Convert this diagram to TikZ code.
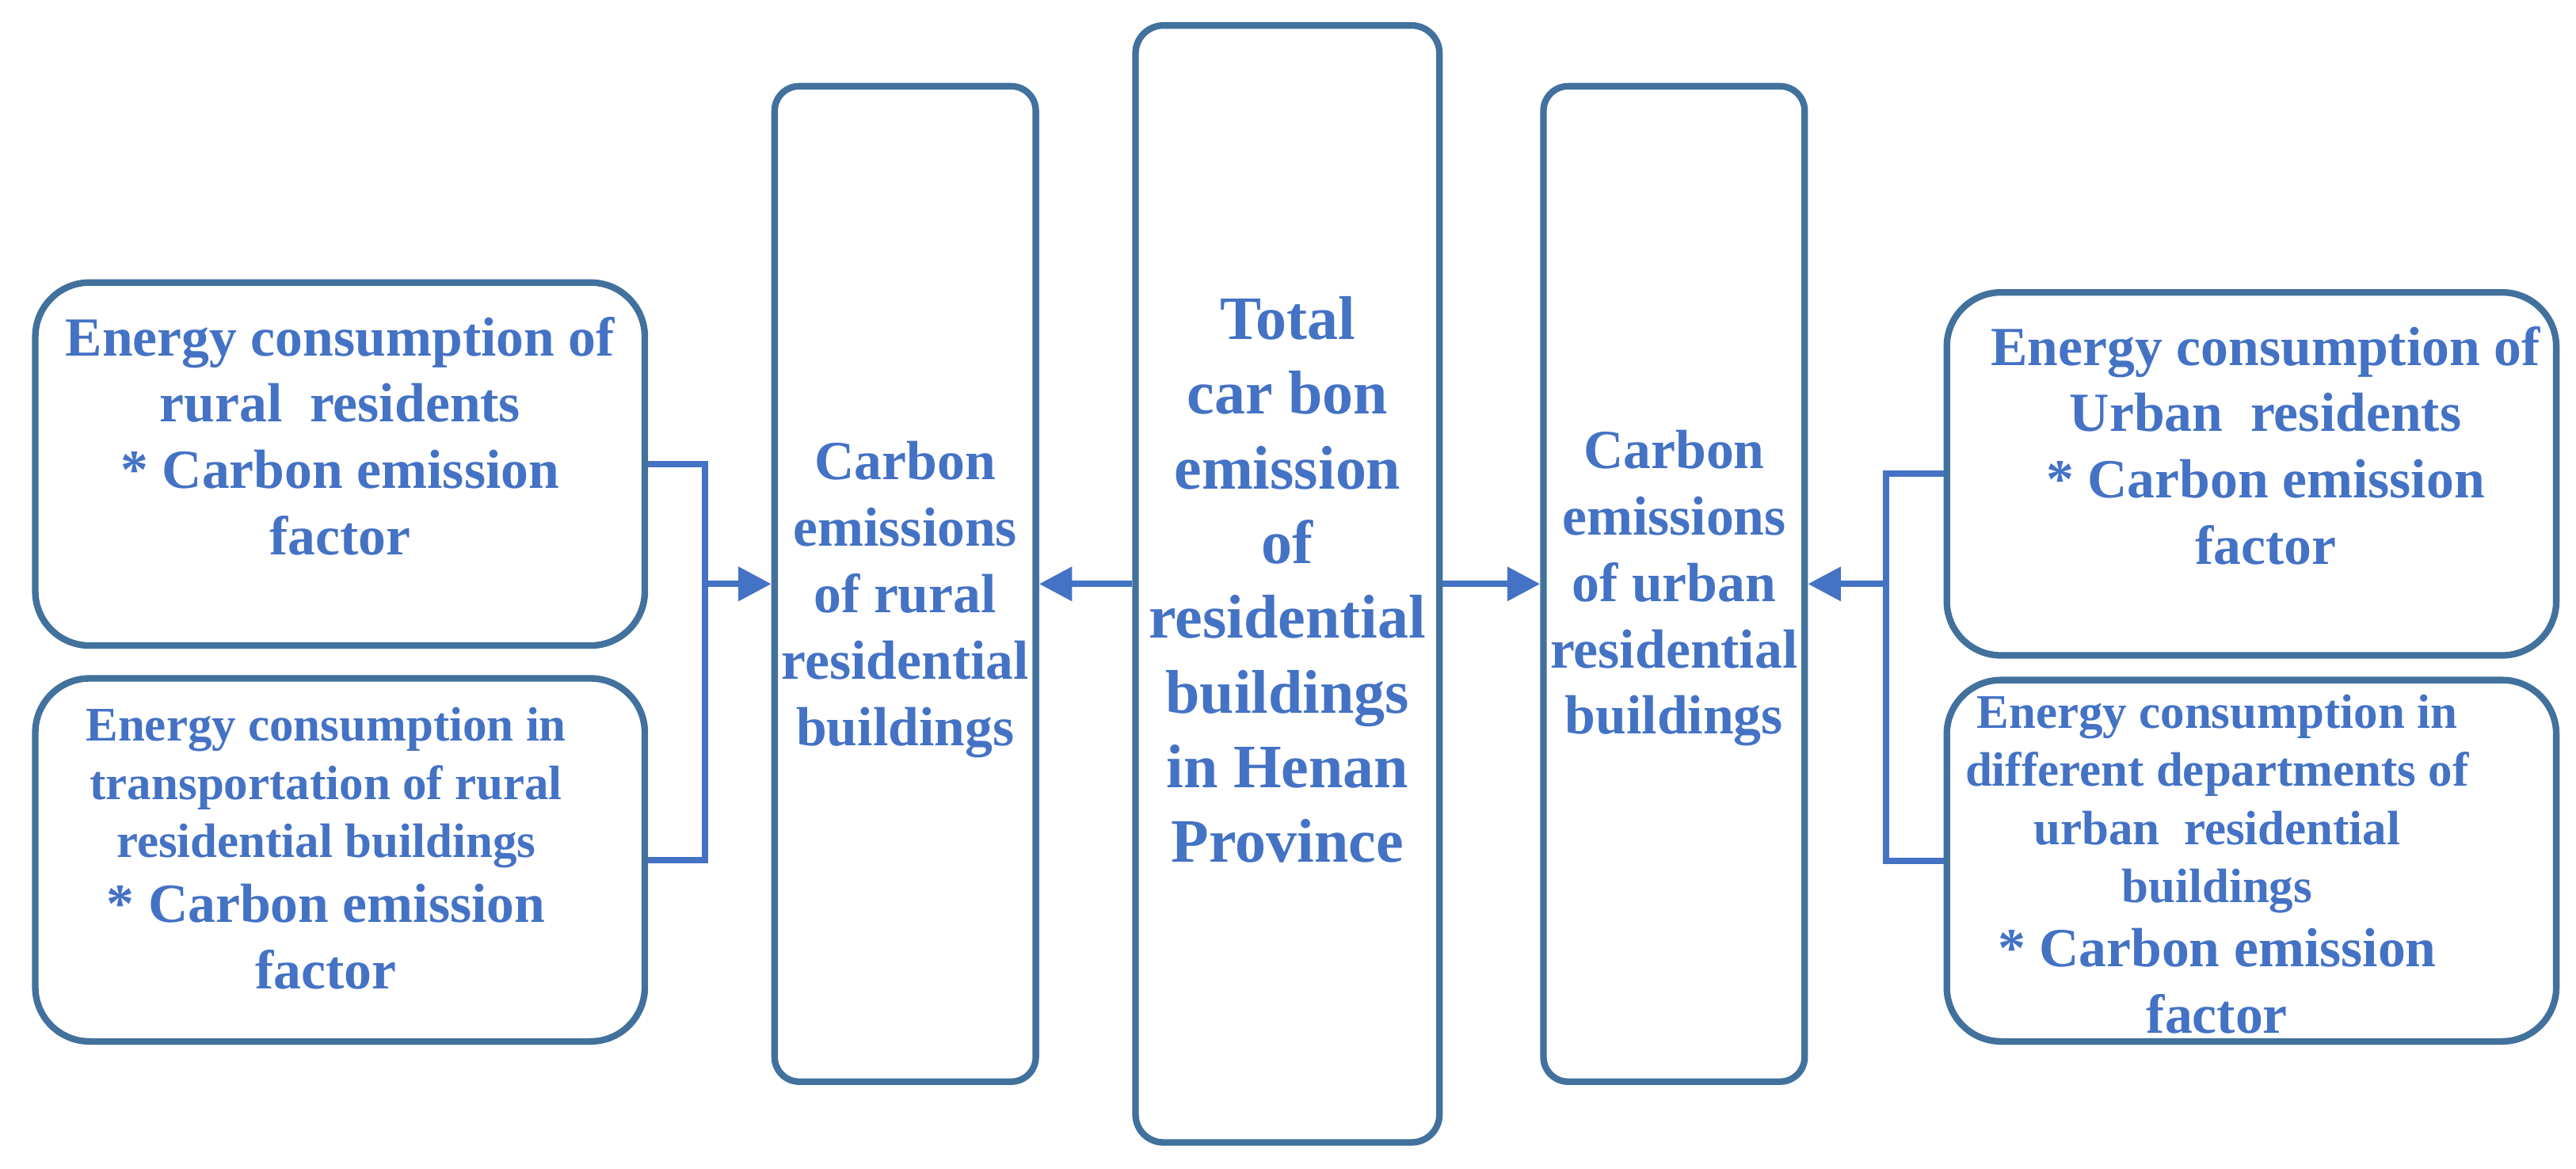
\documentclass[tikz,border=0pt]{standalone}
\usepackage{fontspec}
\setmainfont{Liberation Serif}
\usetikzlibrary{arrows.meta}
\definecolor{boxline}{HTML}{41719C}
\definecolor{txtblue}{HTML}{4472C4}
\newcommand{\bigfs}{\fontsize{16.8}{20.2}\selectfont}
\newcommand{\subfs}{\fontsize{14.7}{17.7}\selectfont}
\newcommand{\mainfs}{\fontsize{18.8}{22.75}\selectfont}

\begin{document}
\begin{tikzpicture}[auto, node distance=2cm, >={Triangle[length=10pt,width=10pt]}, line width=2pt]
        % Stili
        \tikzstyle{tall} = [draw=boxline, fill=white, rectangle, rounded corners=7.5pt, minimum width=79.5pt, minimum height=303pt]
        \tikzstyle{mainbox} = [tall, rounded corners=8.5pt, minimum width=92.5pt, minimum height=340pt]
        \tikzstyle{inbox} = [draw=boxline, fill=white, rectangle, rounded corners=16.5pt, minimum width=185.5pt, minimum height=110.5pt]
        \tikzstyle{txt} = [text=txtblue, font=\bfseries\bigfs, align=center, inner sep=0pt]
        \tikzstyle{coord} = [coordinate]
        \tikzstyle{conn} = [draw=txtblue, line width=2pt]

        \useasboundingbox (-391.85pt,-178.08pt) rectangle (392.15pt,177.75pt);

        % --- Colonne centrali ---
        \node [mainbox] (total) {};
        \node [tall, left of=total, node distance=116.35pt] (rural) {};
        \node [tall, right of=total, node distance=117.65pt] (urban) {};

        % --- Consumi rurali ---
        \node [inbox, left of=rural, node distance=172pt, yshift=36.5pt] (ruralres) {};
        \node [inbox, below of=ruralres, node distance=120.5pt] (ruraltrans) {};

        % --- Consumi urbani ---
        \node [inbox, right of=urban, node distance=175.75pt, yshift=33.5pt] (urbanres) {};
        \node [inbox, below of=urbanres, node distance=117.75pt, minimum height=110pt] (urbandept) {};

        % --- Testi ---
        \node [txt, font=\bfseries\mainfs, yshift=1.3pt] (total-txt) at (total)
            {Total\\ car bon\\ emission\\ of\\ residential\\ buildings\\ in Henan\\ Province};
        \node [txt, yshift=-4.75pt] (rural-txt) at (rural)
            {Carbon\\ emissions\\ of rural\\ residential\\ buildings};
        \node [txt, yshift=-1.35pt] (urban-txt) at (urban)
            {Carbon\\ emissions\\ of urban\\ residential\\ buildings};
        \node [txt, yshift=8.5pt] (ruralres-txt) at (ruralres)
            {Energy consumption of\\ rural\ \ residents\\ * Carbon emission\\ factor};
        \node [txt, font=\bfseries\subfs, xshift=-4.25pt, yshift=3.5pt] (ruraltrans-txt) at (ruraltrans)
            {Energy consumption in\\ transportation of rural\\ residential buildings\\[2.05pt] {\bigfs * Carbon emission}\\[2.55pt] {\bigfs factor}};
        \node [txt, xshift=4.25pt, yshift=8.6pt] (urbanres-txt) at (urbanres)
            {Energy consumption of\\ Urban\ \ residents\\ * Carbon emission\\ factor};
        \node [txt, font=\bfseries\subfs, xshift=-10.5pt, yshift=-1pt] (urbandept-txt) at (urbandept)
            {Energy consumption in\\ different departments of\\ urban\ \ residential\\ buildings\\[1.9pt] {\bigfs * Carbon emission}\\[2.4pt] {\bigfs factor}};

        % --- Collegamenti ---
        \node [coord, left of=rural, node distance=61pt] (ruraljoin) {};
        \node [coord, right of=urban, node distance=64.5pt] (urbanjoin) {};

        % Consumi rurali -> emissioni rurali
        \draw [conn] (ruralres.east) -| (ruraljoin) |- (ruraltrans.east);
        \draw [conn, ->] (ruraljoin) -- (rural.west);

        % Totale -> rurale / urbano
        \draw [conn, ->] (total.west) -- (rural.east);
        \draw [conn, ->] (total.east) -- (urban.west);

        % Consumi urbani -> emissioni urbane
        \draw [conn] (urbanres.west) -| (urbanjoin) |- (urbandept.west);
        \draw [conn, ->] (urbanjoin) -- (urban.east);

    \end{tikzpicture}
\end{document}
